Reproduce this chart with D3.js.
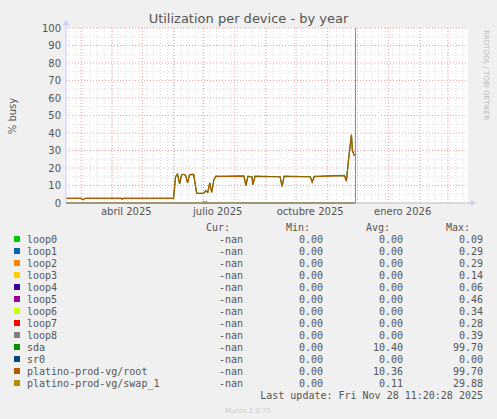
<!DOCTYPE html>
<html><head><meta charset="utf-8">
<script src="https://cdn.jsdelivr.net/npm/d3@7"></script>
<style>body{margin:0;background:#f0f0f0}svg{display:block}</style>
</head><body>
<svg id="chart" width="497" height="419"></svg>
<script>
const names = ['loop0','loop1','loop2','loop3','loop4','loop5','loop6','loop7','loop8','sda','sr0','platino-prod-vg/root','platino-prod-vg/swap_1'];
const colors = ['#00cc00','#0066b3','#ff8000','#ffcc00','#330099','#990099','#ccff00','#ff0000','#808080','#008f00','#00487d','#b35a00','#b38f00'];
const curs = Array(13).fill('-nan');
const mins = ['0.00','0.00','0.00','0.00','0.00','0.00','0.00','0.00','0.00','0.00','0.00','0.00','0.00'];
const avgs = ['0.00','0.00','0.00','0.00','0.00','0.00','0.00','0.00','0.00','10.40','0.00','10.36','0.11'];
const maxs = ['0.09','0.29','0.29','0.14','0.06','0.46','0.34','0.28','0.39','99.70','0.00','99.70','29.88'];

const yTicks = [0,10,20,30,40,50,60,70,80,90,100];
const monthLabels = ['2025-04-15','2025-07-15','2025-10-15','2026-01-15'];
const monthNames = ['abril 2025','julio 2025','octubre 2025','enero 2026'];

const rootDates = ['2025-02-14','2025-03-01','2025-03-03','2025-03-05','2025-04-10','2025-04-11','2025-04-12','2025-06-01','2025-06-03','2025-06-05','2025-06-07','2025-06-09','2025-06-11','2025-06-13','2025-06-15','2025-06-17','2025-06-21','2025-06-24','2025-07-01','2025-07-03','2025-07-05','2025-07-07','2025-07-09','2025-07-11','2025-07-13','2025-07-20','2025-08-10','2025-08-12','2025-08-14','2025-08-18','2025-08-19','2025-08-21','2025-09-15','2025-09-17','2025-09-19','2025-10-15','2025-10-17','2025-10-19','2025-11-18','2025-11-20','2025-11-22','2025-11-25','2025-11-26','2025-11-28'];
const rootVals = [2.7,2.7,1.8,2.7,2.7,2.2,2.7,2.7,15,16.5,11,16,16.4,15.8,11.5,16.2,16.4,5.5,5.5,7,6,11.5,6,13,15,15.2,15.2,10,15,15,10.5,15,15,9.5,15,15,12,15,15.6,12.5,24,39,30,27];
const sdaVals = [2.7,2.7,1.8,2.7,2.7,2.2,2.7,2.7,15,16.5,11,16,16.4,15.8,11.5,16.2,16.4,5.5,5.5,7,6,11.5,6,13,15.4,15.2,15.5,10,15.3,15,10.5,15.4,15,9.5,15.3,15,12,15.3,15.8,12.5,24,39,30,27];
const swapDates = ['2025-02-14','2025-06-28','2025-06-30','2025-07-04','2025-07-06','2025-11-28'];
const swapVals = [0,0,0.6,0.6,0,0];

const svg = d3.select('#chart');
const W = 497, L = 66, R = 468, T = 28, B = 203;
const parse = d3.timeParse('%Y-%m-%d');
const x = d3.scaleTime().domain([new Date(2025,1,14), new Date(2026,2,21)]).range([L, R]);
const y = d3.scaleLinear().domain([0, 100]).range([B, T]);

svg.append('text').attr('x', W/2).attr('y', 23).attr('text-anchor','middle')
  .attr('font-family','DejaVu Sans').attr('font-size',13).attr('fill','#555').text('Utilization per device - by year');
svg.append('text').attr('transform','translate(16,116) rotate(-90)').attr('text-anchor','middle')
  .attr('font-family','DejaVu Sans').attr('font-size',10).attr('fill','#555').text('% busy');
svg.append('text').attr('transform','translate(484,30) rotate(90)').attr('font-family','DejaVu Sans')
  .attr('font-size',7).attr('fill','#bbb').text('RRDTOOL / TOBI OETIKER');

svg.append('rect').attr('x',L).attr('y',T).attr('width',R-L).attr('height',B-T).attr('fill','#fff');
const g = svg.append('g');
d3.range(5,100,5).forEach(v => g.append('line').attr('x1',L).attr('x2',R).attr('y1',y(v)).attr('y2',y(v))
  .attr('stroke', v % 10 ? '#ddd' : '#f0a0a0').attr('stroke-dasharray','1,2'));
d3.timeMonday.range(x.domain()[0], x.domain()[1]).forEach(d => g.append('line').attr('x1',x(d)).attr('x2',x(d))
  .attr('y1',T).attr('y2',B).attr('stroke','#ddd').attr('stroke-dasharray','1,2'));
d3.timeMonth.range(x.domain()[0], x.domain()[1]).forEach(d => g.append('line').attr('x1',x(d)).attr('x2',x(d))
  .attr('y1',T).attr('y2',B).attr('stroke','#f0a0a0').attr('stroke-dasharray','1,2'));
g.append('line').attr('x1',L).attr('x2',R).attr('y1',y(100)).attr('y2',y(100)).attr('stroke','#f0a0a0').attr('stroke-dasharray','1,2');

const yAxis = svg.append('g').attr('font-family','DejaVu Sans').attr('font-size',10).attr('fill','#555');
yTicks.forEach(v => yAxis.append('text').attr('x',61).attr('y',y(v)+3.5).attr('text-anchor','end').text(v));
const xAxis = svg.append('g').attr('font-family','DejaVu Sans').attr('font-size',10).attr('fill','#555');
monthLabels.forEach((d,i) => xAxis.append('text').attr('x',x(parse(d))).attr('y',215).attr('text-anchor','middle').text(monthNames[i]));

const line = d3.line().x(d => x(d[0])).y(d => y(d[1]));
const zeroSeries = [0,1,2,3,4,5,6,7,8,10];
zeroSeries.forEach(i => svg.append('path').datum([[parse('2025-02-14'),0],[parse('2025-11-28'),0]])
  .attr('d',line).attr('fill','none').attr('stroke',colors[i]).attr('stroke-width',1));
svg.append('path').datum(rootDates.map((d,i) => [parse(d), sdaVals[i]])).attr('d',line)
  .attr('fill','none').attr('stroke',colors[9]).attr('stroke-width',1.2);
svg.append('path').datum(rootDates.map((d,i) => [parse(d), rootVals[i]])).attr('d',line)
  .attr('fill','none').attr('stroke',colors[11]).attr('stroke-width',1.2);
svg.append('path').datum(swapDates.map((d,i) => [parse(d), swapVals[i]])).attr('d',line)
  .attr('fill','none').attr('stroke',colors[12]).attr('stroke-width',1.2);

svg.append('line').attr('x1',L).attr('x2',R+4).attr('y1',B).attr('y2',B).attr('stroke','#bbb');
svg.append('line').attr('x1',L).attr('x2',L).attr('y1',T-5).attr('y2',B).attr('stroke','#ccf');
svg.append('path').attr('d',`M${R+3},${B-3}L${R+8},${B}L${R+3},${B+3}Z`).attr('fill','#ccf');
svg.append('path').attr('d',`M${L-3},${T-3}L${L},${T-8}L${L+3},${T-3}Z`).attr('fill','#ccf');
const now = x(parse('2025-11-29'));
svg.append('line').attr('x1',now).attr('x2',now).attr('y1',T).attr('y2',B).attr('stroke','#888');

const lg = svg.append('g').attr('font-family','DejaVu Sans Mono').attr('font-size',10).attr('fill','#555');
[['Cur:',243],['Min:',323],['Avg:',403],['Max:',483]].forEach(([t,cx]) =>
  lg.append('text').attr('x',cx-13).attr('y',231).attr('text-anchor','end').text(t));
names.forEach((n,i) => {
  const ry = 243 + i*12;
  lg.append('rect').attr('x',14).attr('y',ry-7).attr('width',6).attr('height',6).attr('fill',colors[i]);
  lg.append('text').attr('x',27).attr('y',ry).text(n);
  lg.append('text').attr('x',243).attr('y',ry).attr('text-anchor','end').text(curs[i]);
  lg.append('text').attr('x',323).attr('y',ry).attr('text-anchor','end').text(mins[i]);
  lg.append('text').attr('x',403).attr('y',ry).attr('text-anchor','end').text(avgs[i]);
  lg.append('text').attr('x',483).attr('y',ry).attr('text-anchor','end').text(maxs[i]);
});
lg.append('text').attr('x',483).attr('y',399).attr('text-anchor','end').text('Last update: Fri Nov 28 11:20:28 2025');
svg.append('text').attr('x',248).attr('y',413).attr('text-anchor','middle').attr('font-family','DejaVu Sans')
  .attr('font-size',7).attr('fill','#ccc').text('Munin 2.0.75');
</script>
</body></html>
